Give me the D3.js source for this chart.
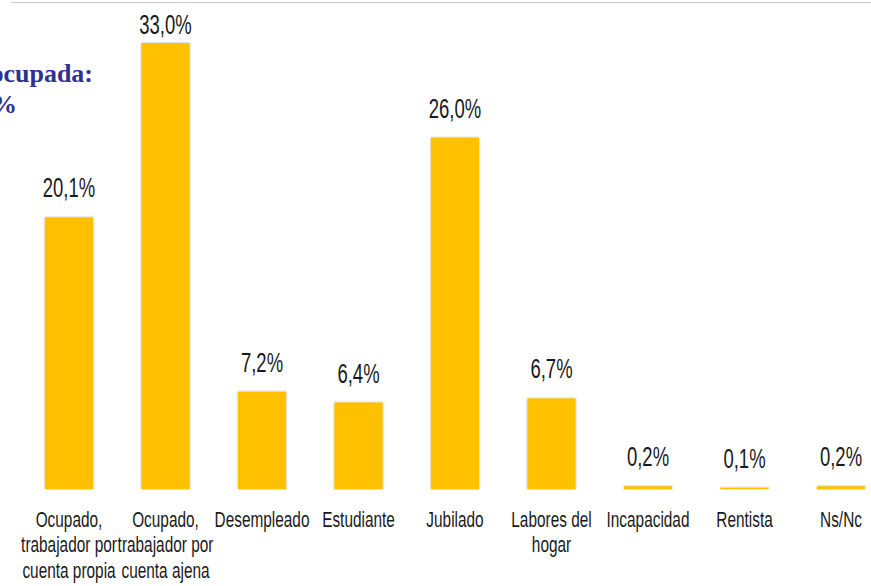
<!DOCTYPE html>
<html>
<head>
<meta charset="utf-8">
<script src="https://cdn.jsdelivr.net/npm/d3@7"></script>
<style>
  html, body { margin: 0; padding: 0; background: #fff; overflow: hidden; }
</style>
</head>
<body>
<div id="chart"></div>
<script>
// Data
const categories = ['Ocupado, trabajador por cuenta propia', 'Ocupado, trabajador por cuenta ajena',
  'Desempleado', 'Estudiante', 'Jubilado', 'Labores del hogar', 'Incapacidad', 'Rentista', 'Ns/Nc'];
const labelLines = [
  ['Ocupado,', 'trabajador por', 'cuenta propia'],
  ['Ocupado,', 'trabajador por', 'cuenta ajena'],
  ['Desempleado'], ['Estudiante'], ['Jubilado'], ['Labores del', 'hogar'],
  ['Incapacidad'], ['Rentista'], ['Ns/Nc']
];
const values = [20.1, 33.0, 7.2, 6.4, 26.0, 6.7, 0.2, 0.1, 0.2];
const titleLines = ['ocupada:', '%'];

const width = 871, height = 586;
const squeeze = 0.66; // text in the picture is horizontally condensed

const svg = d3.select('#chart').append('svg')
  .attr('width', width)
  .attr('height', height);

// soft shadow around bars
const defs = svg.append('defs');
const f = defs.append('filter').attr('id', 'shadow')
  .attr('x', '-20%').attr('y', '-50%').attr('width', '140%').attr('height', '200%');
f.append('feGaussianBlur').attr('in', 'SourceAlpha').attr('stdDeviation', 1.2).attr('result', 'b');
f.append('feComponentTransfer').attr('in', 'b').attr('result', 'b2')
  .append('feFuncA').attr('type', 'linear').attr('slope', 0.35);
const m = f.append('feMerge');
m.append('feMergeNode').attr('in', 'b2');
m.append('feMergeNode').attr('in', 'SourceGraphic');

const x = d3.scaleBand()
  .domain(categories)
  .range([20.75, 889.25])
  .paddingInner(0.5)
  .paddingOuter(0.25);

const y = d3.scaleLinear()
  .domain([0, 33])
  .range([489, 43]);

// top grey rule
svg.append('line')
  .attr('x1', 11).attr('x2', width)
  .attr('y1', 2.5).attr('y2', 2.5)
  .attr('stroke', '#c8c8c8')
  .attr('stroke-width', 1.2);

// title fragment (cropped at the left edge in the picture)
svg.selectAll('.title')
  .data(titleLines)
  .enter()
  .append('text')
  .attr('class', 'title')
  .attr('x', (d, i) => i === 0 ? 93 : 17)
  .attr('y', (d, i) => 82 + i * 31)
  .attr('text-anchor', 'end')
  .attr('font-family', '"Liberation Serif", "Times New Roman", serif')
  .attr('font-weight', 'bold')
  .attr('font-size', 26)
  .attr('fill', '#2e3192')
  .text(d => d);

// bars
svg.selectAll('.bar')
  .data(values)
  .enter()
  .append('rect')
  .attr('class', 'bar')
  .attr('x', (d, i) => x(categories[i]))
  .attr('y', d => y(d))
  .attr('width', x.bandwidth())
  .attr('height', d => y(0) - y(d))
  .attr('fill', '#ffc000')
  .attr('filter', 'url(#shadow)');

// value labels
svg.selectAll('.value')
  .data(values)
  .enter()
  .append('text')
  .attr('class', 'value')
  .attr('transform', (d, i) => {
    const cx = x(categories[i]) + x.bandwidth() / 2;
    const cy = Math.max(y(d) - 20, 34);
    return `translate(${cx},${cy}) scale(${squeeze},1)`;
  })
  .attr('text-anchor', 'middle')
  .attr('font-family', '"Liberation Sans", Arial, sans-serif')
  .attr('font-size', 28)
  .attr('fill', '#1a1a1a')
  .text(d => d.toFixed(1).replace('.', ',') + '%');

// category labels
const cat = svg.selectAll('.cat')
  .data(labelLines)
  .enter()
  .append('text')
  .attr('class', 'cat')
  .attr('transform', (d, i) => `translate(${x(categories[i]) + x.bandwidth() / 2},527) scale(0.7,1)`)
  .attr('text-anchor', 'middle')
  .attr('font-family', '"Liberation Sans", Arial, sans-serif')
  .attr('font-size', 22)
  .attr('fill', '#1a1a1a');

cat.selectAll('tspan')
  .data(d => d)
  .enter()
  .append('tspan')
  .attr('x', 0)
  .attr('dy', (d, i) => i === 0 ? 0 : 25.5)
  .text(d => d);
</script>
</body>
</html>
